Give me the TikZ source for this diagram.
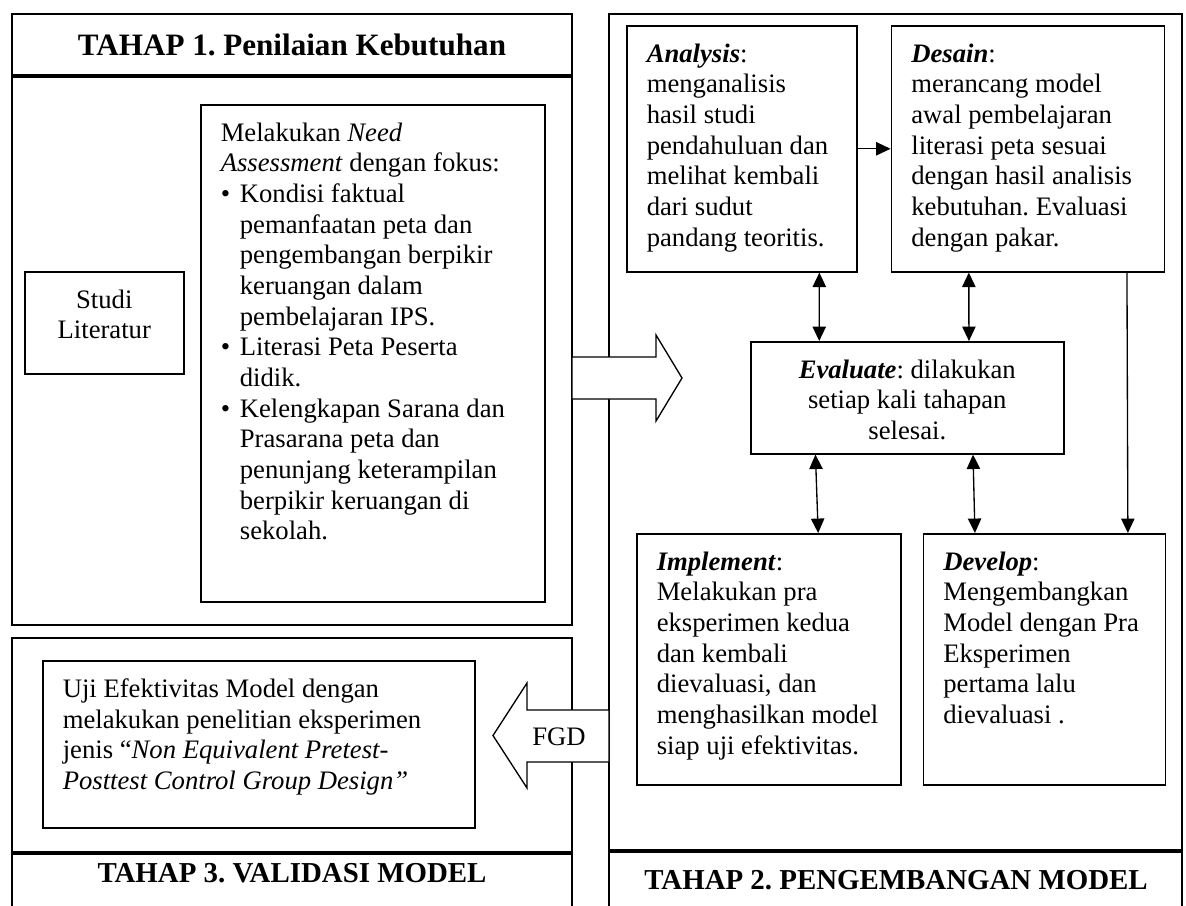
\documentclass[tikz,border=0pt]{standalone}
\usepackage{fontspec}
\setmainfont{Liberation Serif}
\usetikzlibrary{arrows.meta, positioning, calc}
\newdimen\pxu
\pxu=0.45pt
\newcommand{\boxtxt}[3]{\parbox[c][#2\pxu][t]{#1\pxu}{#3}}
\newcommand{\bul}{\makebox[8.6pt][l]{\textbullet}}
\newcommand{\ind}{\hspace*{8.6pt}}
\newcommand{\hd}[1]{\textbf{\textit{#1}}}
\frenchspacing

\begin{document}
\begin{tikzpicture}[x=0.45pt, y=-0.45pt,
  every node/.style = {font=\fontsize{12}{13.8}\selectfont},
  stage/.style = {line width=0.9pt},
  hline/.style = {line width=1.4pt},
  tbox/.style = {draw, line width=0.7pt, anchor=north west, inner xsep=9pt, inner ysep=8.1pt, fill=white},
  ttl/.style = {font=\fontsize{13}{15}\selectfont\bfseries, inner sep=0},
  barrow/.style = {line width=0.6pt, fill=white},
  arr/.style = {line width=0.6pt, -{Triangle[length=6.5pt, width=6pt]}},
  darr/.style = {line width=0.6pt, {Triangle[length=6.5pt, width=6pt]}-{Triangle[length=6.5pt, width=6pt]}},
  ]
  \useasboundingbox (0,0) rectangle (1186,905);
  \draw[stage] (12,14) rectangle (572,625);
  \draw[stage] (12,920) |- (572,638) -- (572,920);
  \draw[stage] (609,920) |- (1182,14) -- (1182,920);
  \draw[hline] (12,76) -- (572,76);
  \draw[hline] (12,853) -- (572,853);
  \draw[hline] (609,851) -- (1182,851);
  \draw[barrow] (572,357) -- (656,357) -- (656,335) -- (682,378) -- (656,421) -- (656,399) -- (572,399) -- cycle;
  \draw[barrow] (609,710) -- (527,710) -- (527,683) -- (493,735.5) -- (527,788) -- (527,762) -- (609,762) -- cycle;

  \node[ttl, font=\fontsize{14}{16}\selectfont\bfseries] (t1) at (292,45) {TAHAP 1. Penilaian Kebutuhan};
  \node[ttl] (t3) at (292,873) {TAHAP 3. VALIDASI MODEL};
  \node[ttl] (t2) at (896,880) {TAHAP 2. PENGEMBANGAN MODEL};
  \node (fgd) at (559,737) {FGD};

  \node[tbox] (studi) at (24,271) {\boxtxt{119}{66}{\centering Studi\\Literatur}};
  \node[tbox] (need) at (200,104) {\boxtxt{304}{461}{\raggedright
    Melakukan \textit{Need}\\
    \textit{Assessment} dengan fokus:\\
    \bul Kondisi faktual\\
    \ind pemanfaatan peta dan\\
    \ind pengembangan berpikir\\
    \ind keruangan dalam\\
    \ind pembelajaran IPS.\\
    \bul Literasi Peta Peserta\\
    \ind didik.\\
    \bul Kelengkapan Sarana dan\\
    \ind Prasarana peta dan\\
    \ind penunjang keterampilan\\
    \ind berpikir keruangan di\\
    \ind sekolah.}};
  \node[tbox] (uji) at (42,660) {\boxtxt{392}{131}{\raggedright
    Uji Efektivitas Model dengan\\
    melakukan penelitian eksperimen\\
    jenis “\textit{Non Equivalent Pretest-}\\
    \textit{Posttest Control Group Design”}}};
  \node[tbox] (anl) at (626,25) {\boxtxt{190}{210}{\raggedright
    \hd{Analysis}:\\
    menganalisis\\
    hasil studi\\
    pendahuluan dan\\
    melihat kembali\\
    dari sudut\\
    pandang teoritis.}};
  \node[tbox, right=14.85pt of anl.north east, anchor=north west] (dsn) {\boxtxt{233}{210}{\raggedright
    \hd{Desain}:\\
    merancang model\\
    awal pembelajaran\\
    literasi peta sesuai\\
    dengan hasil analisis\\
    kebutuhan. Evaluasi\\
    dengan pakar.}};
  \node[tbox] (evl) at (750,341) {\boxtxt{273}{76}{\centering
    \hd{Evaluate}: dilakukan\\
    setiap kali tahapan\\
    selesai.}};
  \node[tbox] (imp) at (636,533) {\boxtxt{224}{215}{\raggedright
    \hd{Implement}:\\
    Melakukan pra\\
    eksperimen kedua\\
    dan kembali\\
    dievaluasi, dan\\
    menghasilkan model\\
    siap uji efektivitas.}};
  \node[tbox, right=9.45pt of imp.north east, anchor=north west] (dev) {\boxtxt{202}{215}{\raggedright
    \hd{Develop}:\\
    Mengembangkan\\
    Model dengan Pra\\
    Eksperimen\\
    pertama lalu\\
    dievaluasi .}};

  \draw[arr] (anl) -- (dsn);
  \draw[darr] ($(anl.south west)!0.835!(anl.south east)$) -- ($(evl.north west)!0.22!(evl.north east)$);
  \draw[darr] ($(dsn.south west)!0.285!(dsn.south east)$) -- ($(evl.north west)!0.696!(evl.north east)$);
  \draw[darr] ($(evl.south west)!0.208!(evl.south east)$) -- ($(imp.north west)!0.686!(imp.north east)$);
  \draw[darr] ($(evl.south west)!0.709!(evl.south east)$) -- ($(dev.north west)!0.215!(dev.north east)$);
  \draw[arr] ($(dsn.south west)!0.861!(dsn.south east)$) -- ($(dev.north west)!0.843!(dev.north east)$);
\end{tikzpicture}
\end{document}
